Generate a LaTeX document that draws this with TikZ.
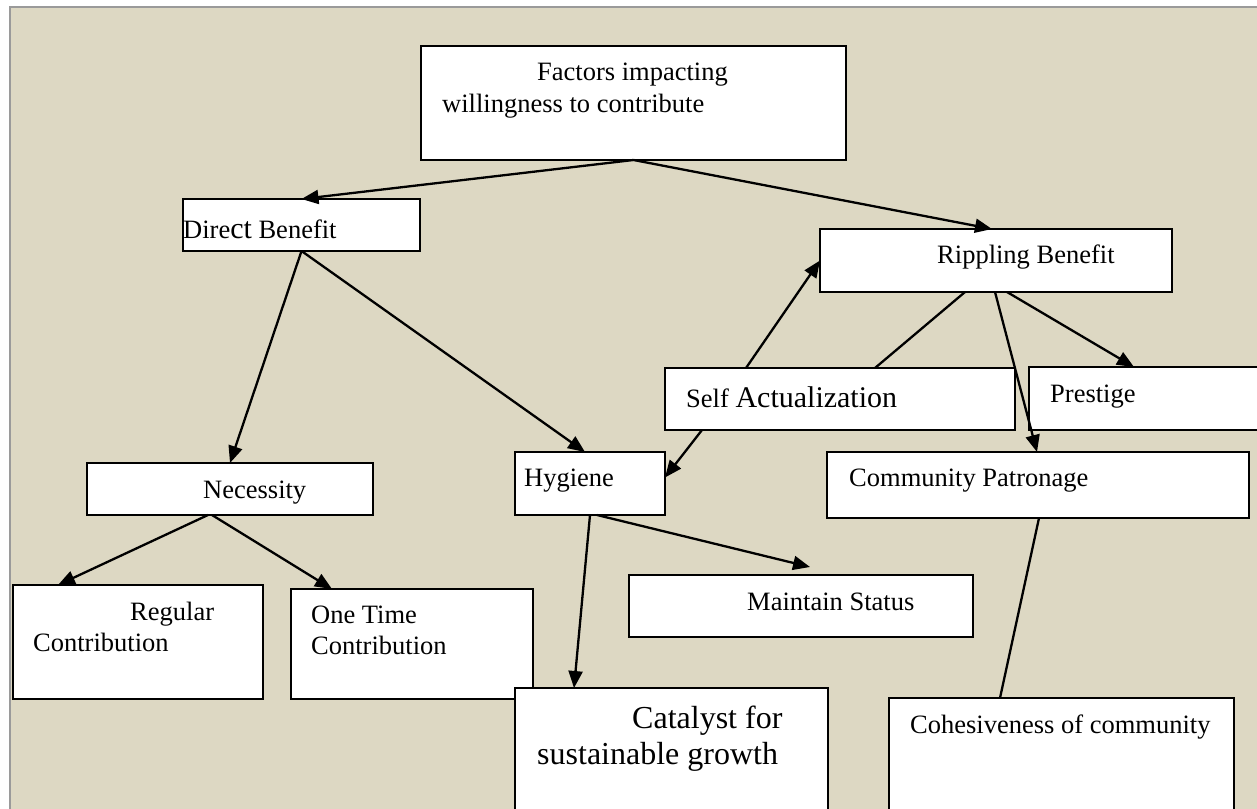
\documentclass[tikz,border=0pt]{standalone}
\usepackage{fontspec}
\setmainfont{Liberation Serif}
\usetikzlibrary{arrows.meta}
\definecolor{panel}{HTML}{DDD8C3}
\definecolor{framegray}{HTML}{9A9A9A}

\begin{document}
\begin{tikzpicture}[x=1pt,y=-1pt,
  box/.style={draw=black,line width=2pt,fill=white,rectangle,anchor=north west,inner sep=0pt,outer sep=0pt},
  lbl/.style={anchor=base west,inner sep=0pt,font=\fontsize{26.5}{32}\selectfont},
  biglbl/.style={lbl,font=\fontsize{32}{38}\selectfont},
  link/.style={line width=2.3pt,-{Triangle[length=17pt,width=14pt]}},
  plain/.style={line width=2.3pt}]
\useasboundingbox (0,0) rectangle (1257,808);
\clip (0,0) rectangle (1257,808);
% page and panel
\fill[white] (0,0) rectangle (1257,808);
\fill[panel] (10,7) rectangle (1270,820);
\draw[framegray,line width=1.5pt] (10,830) -- (10,7) -- (1270,7);

% boxes
\node[box,minimum width=425pt,minimum height=114pt] (fac) at (421,46) {};
\node[box,minimum width=237pt,minimum height=52pt] (dir) at (183,199) {};
\node[box,minimum width=352pt,minimum height=63pt] (rip) at (820,229) {};
\node[box,minimum width=286pt,minimum height=52pt] (nec) at (87,463) {};
\node[box,minimum width=250pt,minimum height=114pt] (reg) at (13,585) {};
\node[box,minimum width=242pt,minimum height=110pt] (one) at (291,589) {};
\node[box,minimum width=150pt,minimum height=63pt] (hyg) at (515,452) {};
\node[box,minimum width=350pt,minimum height=62pt] (self) at (665,368) {};
\node[box,minimum width=250pt,minimum height=63pt] (pre) at (1029,367) {};
\node[box,minimum width=422pt,minimum height=66pt] (comm) at (827,452) {};
\node[box,minimum width=344pt,minimum height=62pt] (mst) at (629,575) {};
\node[box,minimum width=313pt,minimum height=150pt] (cat) at (515,688) {};
\node[box,minimum width=345pt,minimum height=150pt] (coh) at (889,698) {};

% labels
\node[lbl] (facA) at (537,80) {Factors impacting};
\node[lbl] (facB) at (442,112) {willingness to contribute};
\node[lbl] (dirT) at (183,238) {Dire{\fontsize{30}{36}\selectfont ct} Benefit};
\node[lbl] (ripT) at (937,263) {Rippling Benefit};
\node[lbl] (necT) at (203,498) {Necessity};
\node[lbl] (regA) at (130,620) {Regular};
\node[lbl] (regB) at (33,651) {Contribution};
\node[lbl] (oneA) at (311,623) {One Time};
\node[lbl] (oneB) at (311,654) {Contribution};
\node[lbl] (hygT) at (524,486) {Hygiene};
\node[lbl] (selfT) at (686,407) {Self {\fontsize{30}{36}\selectfont Actualization}};
\node[lbl] (preT) at (1050,402) {Prestige};
\node[lbl] (commT) at (849,486) {Community Patronage};
\node[lbl] (mstT) at (747,610) {Maintain Status};
\node[biglbl] (catA) at (632,728) {Catalyst for};
\node[biglbl] (catB) at (537,764) {sustainable growth};
\node[lbl] (cohT) at (910,733) {Cohesiveness of community};

% connectors
\draw[link] (fac.south) -- (dir.north);
\draw[link] (fac.south) -- ([xshift=-4pt]rip.north);
\draw[link] (dir.south) -- (nec.north);
\draw[link] (dir.south) -- ([xshift=-5pt]hyg.north);
\draw[link] ([xshift=-22pt]nec.south) -- ([xshift=45pt]reg.north west);
\draw[link] ([xshift=-18pt]nec.south) -- ([xshift=41pt]one.north west);
\draw[link] ([xshift=81pt]self.north west) -- (rip.west);
\draw[link] ([xshift=37pt]self.south west) -- ([yshift=6pt]hyg.east);
\draw[plain] ([xshift=145pt]rip.south west) -- ([xshift=210pt]self.north west);
\draw[link] ([xshift=175pt]rip.south west) -- ([xshift=210pt]comm.north west);
\draw[link] ([xshift=187pt]rip.south west) -- ([xshift=105pt]pre.north west);
\draw[link] (hyg.south) -- ([xshift=59pt]cat.north west);
\draw[link] ([xshift=7pt]hyg.south) -- ([xshift=181pt,yshift=8pt]mst.north west);
\draw[plain] ([xshift=212pt]comm.south west) -- ([xshift=111pt]coh.north west);
\end{tikzpicture}
\end{document}
